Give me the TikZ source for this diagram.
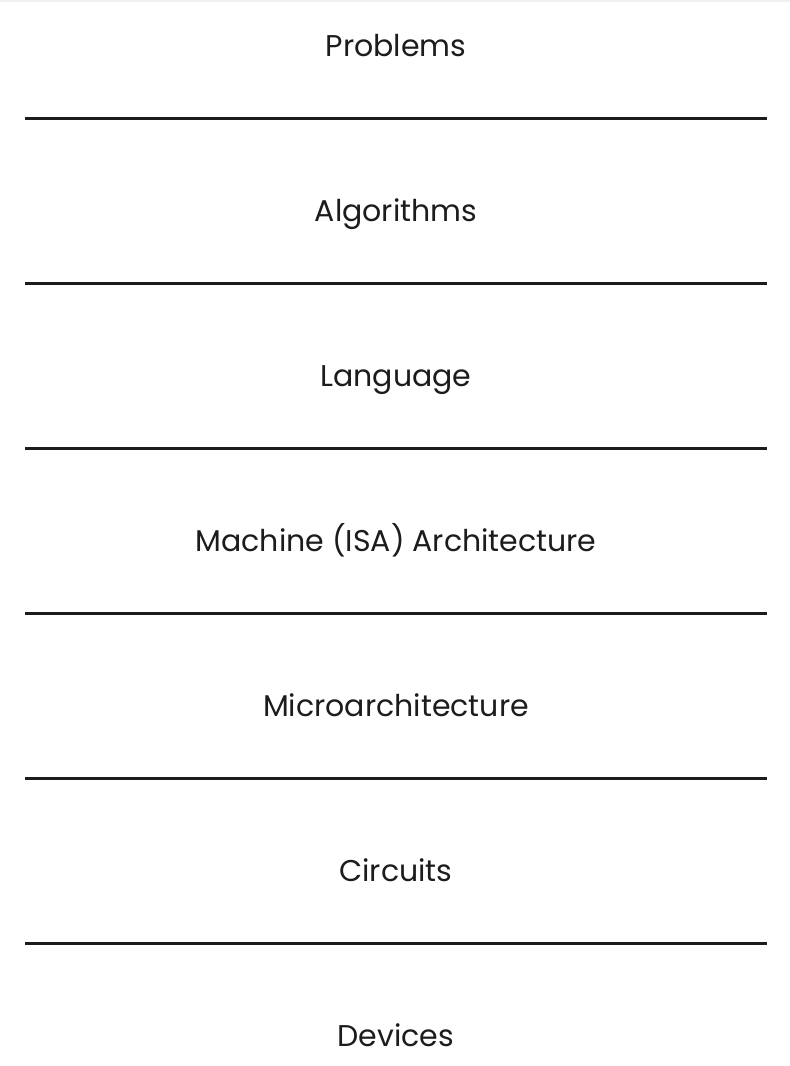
\documentclass[tikz,border=0pt]{standalone}
\usepackage{fontspec}
\setmainfont{Poppins}
\definecolor{ink}{HTML}{1C1C1C}
\begin{document}
\begin{tikzpicture}[x=1pt,y=-1pt,
  layer/.style={font=\fontsize{30}{35}\selectfont, text=ink, inner sep=0pt, anchor=base},
  rule/.style={draw=ink, line width=3pt}]
\useasboundingbox[fill=white] (0,0) rectangle (790,1066);
\fill[black!6] (0,0) rectangle (790,2);
\node[layer] (l1) at (396,56.8) {Problems};
\node[layer] (l2) at (396,221.8) {Algorithms};
\node[layer] (l3) at (396,386.8) {Language};
\node[layer] (l4) at (396,551.8) {Machine (ISA) Architecture};
\node[layer] (l5) at (396,716.8) {Microarchitecture};
\node[layer] (l6) at (396,881.8) {Circuits};
\node[layer] (l7) at (396,1046.8) {Devices};
\foreach \y/\n in {118.5/1,283.5/2,448.5/3,613.5/4,778.5/5,943.5/6}{
  \coordinate (a\n) at (25,\y);
  \coordinate (b\n) at (767,\y);
  \draw[rule] (a\n) -- (b\n);
}
\end{tikzpicture}
\end{document}
